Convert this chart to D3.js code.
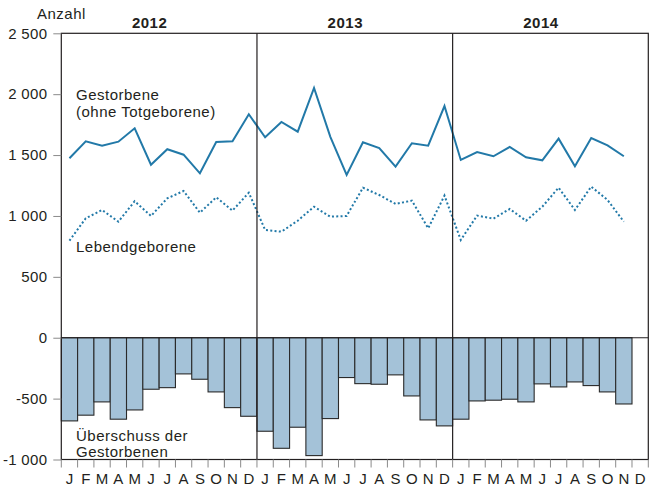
<!DOCTYPE html>
<html>
<head>
<meta charset="utf-8">
<script src="https://cdn.jsdelivr.net/npm/d3@7"></script>
<style>
  body { margin: 0; background: #ffffff; }
  text { font-family: 'Liberation Sans', Arial, sans-serif; fill: #231f20; }
  .note { letter-spacing: 0.5px; }
</style>
</head>
<body>
<div id="chart"></div>
<script>

const years = ['2012', '2013', '2014'];
const monthLabels = ['J', 'F', 'M', 'A', 'M', 'J', 'J', 'A', 'S', 'O', 'N', 'D'];
const yTicks = [2500, 2000, 1500, 1000, 500, 0, -500, -1000];

// Gestorbene (ohne Totgeborene), Jan 2012 - Nov 2014
const gestorbene = [
  1474, 1613, 1577, 1610, 1720, 1421, 1548, 1503, 1350, 1607, 1613, 1835,
  1646, 1772, 1692, 2051, 1650, 1337, 1605, 1558, 1405, 1597, 1577, 1903,
  1460, 1525, 1490, 1567, 1482, 1457, 1635, 1408, 1640, 1580, 1490
];

// Lebendgeborene
const lebendgeborene = [
  797, 981, 1049, 953, 1121, 1000, 1145, 1205, 1027, 1153, 1044, 1191,
  885, 871, 961, 1076, 994, 1000, 1232, 1172, 1099, 1126, 899, 1167,
  803, 1003, 978, 1057, 961, 1076, 1232, 1049, 1241, 1131, 953
];

// Überschuss der Gestorbenen
const ueberschuss = [
  -683, -636, -527, -669, -593, -423, -410, -297, -341, -445, -574, -645,
  -768, -908, -735, -968, -664, -327, -377, -382, -305, -478, -675, -724,
  -669, -519, -513, -505, -527, -379, -404, -363, -393, -445, -544
];


class BirthDeathChart {
  constructor(id_tag) {
    this.id_tag = id_tag;
    this.lineColor = '#2279a8';
    this.barColor = '#a4c2d8';
  }

  doChart() {
    const width = 649, height = 488;
    const svg = d3.select(this.id_tag)
      .append('svg')
        .attr('width', width)
        .attr('height', height);

    // one slot per month, 3 years
    const keys = [];
    years.forEach(yr => monthLabels.forEach((m, i) => keys.push(yr + '-' + i)));

    const x = d3.scaleBand()
      .domain(keys)
      .range([61.3, 648.3])
      .padding(0);

    const y = d3.scaleLinear()
      .domain([-1000, 2500])
      .range([459.5, 33.3]);

    this.doBars(svg, keys, x, y);
    this.doLines(svg, keys, x, y);
    this.doFrame(svg, keys, x, y);
    this.doAxes(svg, keys, x, y);
    this.doLabels(svg, keys, x, y);
  }

  doBars(svg, keys, x, y) {
    svg.append('g')
      .selectAll('rect')
      .data(ueberschuss)
      .enter()
      .append('rect')
        .attr('x', (d, i) => x(keys[i]))
        .attr('y', y(0))
        .attr('width', x.bandwidth())
        .attr('height', d => y(d) - y(0))
        .style('fill', this.barColor)
        .style('stroke', '#2a2a2a')
        .style('stroke-width', 1.1);
  }

  doLines(svg, keys, x, y) {
    const line = d3.line()
      .x((d, i) => x(keys[i]) + x.bandwidth() / 2)
      .y(d => y(d));

    svg.append('path')
      .datum(gestorbene)
      .attr('d', line)
      .style('fill', 'none')
      .style('stroke', this.lineColor)
      .style('stroke-width', 2)
      .style('stroke-linejoin', 'miter');

    svg.append('path')
      .datum(lebendgeborene)
      .attr('d', line)
      .style('fill', 'none')
      .style('stroke', this.lineColor)
      .style('stroke-width', 2)
      .style('stroke-dasharray', '2,2.3');
  }

  doFrame(svg, keys, x, y) {
    const left = x.range()[0], right = x.range()[1];
    const frame = svg.append('g')
      .style('stroke', '#231f20')
      .style('stroke-width', 1.2);

    // zero line
    frame.append('line')
      .attr('x1', left).attr('x2', right)
      .attr('y1', y(0)).attr('y2', y(0));

    // year dividers
    frame.selectAll('.divider')
      .data(years.slice(1))
      .enter()
      .append('line')
        .attr('class', 'divider')
        .attr('x1', d => x(d + '-0'))
        .attr('x2', d => x(d + '-0'))
        .attr('y1', y(2500))
        .attr('y2', y(-1000));

    frame.append('rect')
      .attr('x', left)
      .attr('y', y(2500))
      .attr('width', right - left)
      .attr('height', y(-1000) - y(2500))
      .style('fill', 'none');
  }

  doAxes(svg, keys, x, y) {
    const fmt = d3.formatLocale({
      decimal: ',', thousands: ' ', grouping: [3], currency: ['', ''], minus: '-'
    }).format(',');

    // Add Y axis
    const yAxis = svg.append('g')
      .attr('transform', 'translate(' + x.range()[0] + ',0)')
      .call(d3.axisLeft(y).tickValues(yTicks).tickFormat(fmt).tickSize(8).tickPadding(6));
    yAxis.select('.domain').remove();
    yAxis.selectAll('line').style('stroke', '#8a8a8a');
    yAxis.selectAll('text')
      .style('font-size', '15px')
      .style('font-family', "'Liberation Sans', Arial, sans-serif")
      .style('letter-spacing', '0.3px')
      .style('fill', '#231f20');

    // X ticks at month boundaries
    const bounds = keys.map(k => x(k)).concat([x.range()[1]]);
    svg.append('g')
      .selectAll('line')
      .data(bounds)
      .enter()
      .append('line')
        .attr('x1', d => d).attr('x2', d => d)
        .attr('y1', y(-1000)).attr('y2', y(-1000) + 8)
        .style('stroke', '#8a8a8a')
        .style('stroke-width', 1);

    // month labels
    svg.append('g')
      .selectAll('text')
      .data(keys)
      .enter()
      .append('text')
        .attr('x', d => x(d) + x.bandwidth() / 2)
        .attr('y', 484)
        .attr('text-anchor', 'middle')
        .style('font-size', '15px')
        .text(d => monthLabels[+d.split('-')[1]]);
  }

  doLabels(svg, keys, x, y) {
    svg.append('text')
      .attr('class', 'note')
      .attr('x', 37).attr('y', 19)
      .style('font-size', '15px')
      .text('Anzahl');

    // year titles, a bit left of each year's middle
    svg.append('g')
      .selectAll('text')
      .data(years)
      .enter()
      .append('text')
        .attr('class', 'note')
        .attr('x', d => x(d + '-6') - 9.5)
        .attr('y', 28)
        .attr('text-anchor', 'middle')
        .style('font-size', '15px')
        .style('font-weight', 'bold')
        .text(d => d);

    const notes = [
      { text: 'Gestorbene', x: 76, y: 100 },
      { text: '(ohne Totgeborene)', x: 76, y: 117 },
      { text: 'Lebendgeborene', x: 76, y: 252 },
      { text: 'Überschuss der', x: 76, y: 441 },
      { text: 'Gestorbenen', x: 76, y: 457 }
    ];
    svg.append('g')
      .selectAll('text')
      .data(notes)
      .enter()
      .append('text')
        .attr('class', 'note')
        .attr('x', d => d.x)
        .attr('y', d => d.y)
        .style('font-size', '15px')
        .text(d => d.text);
  }
}

new BirthDeathChart('#chart').doChart();
</script>
</body>
</html>
